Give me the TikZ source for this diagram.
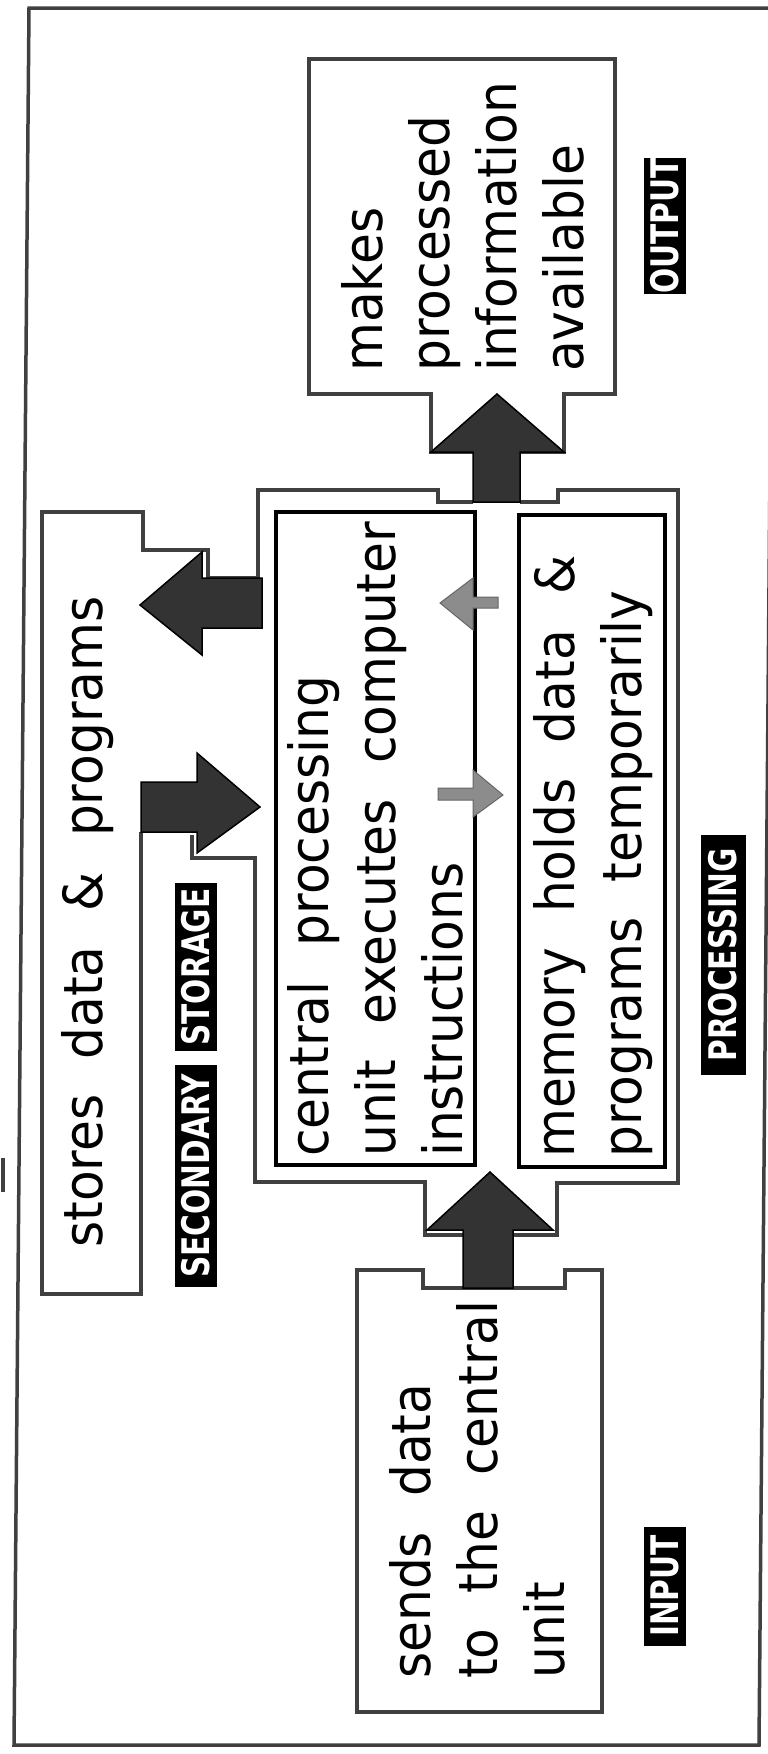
\documentclass[tikz,border=0pt]{standalone}
\usepackage{fontspec}
\setmainfont{DejaVu Sans}[WordSpace=2.2, FakeStretch=0.93]
\newfontfamily\tagfont{DejaVu Sans}[FakeStretch=0.78]
\usetikzlibrary{positioning}

\begin{document}
\begin{tikzpicture}[
    x=1pt, y=-1pt,
    outline/.style={draw=black!75, line width=3.5pt},
    unitbox/.style={draw, line width=4.5pt},
    blockarr/.style={fill=black!80, draw=black, line width=1.5pt},
    thinarr/.style={fill=black!45, draw=black!60, line width=1pt},
    caption/.style={rotate=90, anchor=base west, inner sep=0pt, align=left, font=\fontsize{54}{67}\selectfont},
    tag/.style={rotate=90, fill=black, text=white, inner sep=0pt, minimum height=42pt, font=\tagfont\bfseries\fontsize{38}{38}\selectfont}
]
\useasboundingbox (0,0) rectangle (768,1754);

% page frame
\draw[outline] (29,8) -- (774,8) -- (759,1745) -- (14,1745) -- cycle;
\draw[outline] (3,1158) -- (3,1192);

% storage and processing outline
\draw[outline] (141,832) -- (141,1294) -- (42,1294) -- (42,512) -- (143,512) -- (143,550) -- (208,550) -- (208,578) -- (258,578) -- (258,490) -- (438,490) -- (438,502) -- (473,502);
\draw[outline] (520,502) -- (558,502) -- (558,490) -- (678,490) -- (678,1183) -- (557,1183) -- (557,1235) -- (425,1235) -- (425,1182) -- (255,1182) -- (255,858) -- (192,858) -- (192,835);
% output and input boxes
\draw[outline] (309,59) -- (615,59) -- (615,394) -- (564,394) -- (564,452) -- (431,452) -- (431,394) -- (309,394) -- cycle;
\draw[outline] (357,1270) -- (423,1270) -- (423,1288) -- (565,1288) -- (565,1270) -- (602,1270) -- (602,1712) -- (357,1712) -- cycle;

% cpu and memory
\draw[unitbox] (276,512) rectangle (475,1165);
\draw[unitbox] (519,515) rectangle (665,1167);

% arrows
\draw[blockarr] (473,502) -- (473,452) -- (431,452) -- (497,394) -- (564,452) -- (520,452) -- (520,502) -- cycle;
\draw[blockarr] (463,1288) -- (463,1230) -- (427,1230) -- (490,1172) -- (553,1230) -- (513,1230) -- (513,1288) -- cycle;
\draw[blockarr] (262,578) -- (202,578) -- (202,552) -- (140,605) -- (202,655) -- (202,628) -- (262,628) -- cycle;
\draw[blockarr] (141,782) -- (197,782) -- (197,753) -- (260,807) -- (197,853) -- (197,832) -- (141,832) -- cycle;
\draw[thinarr] (498,597) -- (473,597) -- (473,578) -- (440,603) -- (473,630) -- (473,608) -- (498,608) -- cycle;
\draw[thinarr] (438,788) -- (473,788) -- (473,770) -- (503,795) -- (473,817) -- (473,800) -- (438,800) -- cycle;

% texts
\node[caption] (output) at (583,372) {makes\\processed\\information\\available};
\node[caption] (input) at (564,1679) {sends data\\to the central\\unit};
\node[caption] (cpu) at (462,1157) {central processing\\unit executes computer\\instructions};
\node[caption] (memory) at (641,1158) {memory holds data \&\\programs temporarily};
\node[caption] (storage) at (102,1248) {stores data \& programs};

% labels
\node[tag, minimum width=134pt] (outlabel) at (665,226) {OUTPUT};
\node[tag, minimum width=119pt] (inlabel) at (665,1586) {INPUT};
\node[tag, minimum width=240pt, minimum height=45pt] (proclabel) at (723,955) {PROCESSING};
\node[tag, minimum width=168pt] (storlabel) at (196,967) {STORAGE};
\node[tag, minimum width=222pt] (seclabel) at (196,1176) {SECONDARY};
\end{tikzpicture}
\end{document}
